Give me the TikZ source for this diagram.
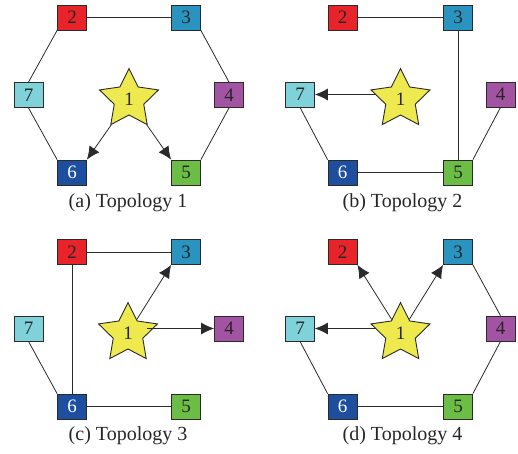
\documentclass[tikz,border=0pt]{standalone}
\usepackage{fontspec}
\setmainfont{Liberation Serif}
\usetikzlibrary{shapes.geometric,arrows.meta}
\definecolor{cR}{HTML}{E8242A}
\definecolor{cT}{HTML}{2A93BF}
\definecolor{cP}{HTML}{A253A1}
\definecolor{cG}{HTML}{6BBD45}
\definecolor{cB}{HTML}{1E4F9F}
\definecolor{cC}{HTML}{7FD1DA}
\definecolor{cY}{HTML}{EDE94E}
\definecolor{cE}{HTML}{2A2A2A}
\tikzset{
  box/.style={draw=cE, line width=0.8pt, minimum width=29pt, minimum height=25pt,
    inner sep=0pt, font=\fontsize{19}{19}\selectfont, text=black!85},
  starnode/.style={star, star points=5, star point ratio=2.0, minimum size=62pt,
    inner sep=0pt, draw=cE, line width=0.9pt, fill=cY,
    font=\fontsize{19}{19}\selectfont, text=black!85},
  caption/.style={font=\fontsize{20}{20}\selectfont, text=black!85},
  link/.style={draw=cE, line width=0.8pt},
  arr/.style={draw=cE, line width=0.8pt, -{Latex[length=13pt,width=12pt]}},
}
\begin{document}
\begin{tikzpicture}[x=1pt,y=-1pt]
\useasboundingbox (0,0) rectangle (518,453);
% ---------- (a)
\begin{scope}
\node[box,fill=cR] (a2) at (72,17.5) {2};
\node[box,fill=cT] (a3) at (186,17.5) {3};
\node[box,fill=cC] (a7) at (28.5,95) {7};
\node[box,fill=cP] (a4) at (229,95) {4};
\node[box,fill=cB,text=white] (a6) at (72,172.5) {6};
\node[box,fill=cG] (a5) at (186,172.5) {5};
\node[starnode] (a1) at (129,99.5) {1};
\node[caption] (ca) at (128,203) {(a) Topology 1};
\draw[link] (a2.east) -- (a3.west);
\draw[link] (a2.south west) -- (a7.north);
\draw[link] (a7.south) -- (a6.north west);
\draw[link] (a3.south east) -- (a4.north);
\draw[link] (a4.south) -- (a5.north east);
\draw[arr] (a1) -- (a6.north east);
\draw[arr] (a1) -- (a5.north west);
\end{scope}
% ---------- (b)
\begin{scope}[shift={(271.5,0)}]
\node[box,fill=cR] (b2) at (71,17.5) {2};
\node[box,fill=cT] (b3) at (186.5,17.5) {3};
\node[box,fill=cC] (b7) at (28.5,94.5) {7};
\node[box,fill=cP] (b4) at (229,94.5) {4};
\node[box,fill=cB,text=white] (b6) at (71,172.5) {6};
\node[box,fill=cG] (b5) at (186.5,172.5) {5};
\node[starnode] (b1) at (129,99.5) {1};
\node[caption] (cb) at (131,203) {(b) Topology 2};
\draw[link] (b2.east) -- (b3.west);
\draw[link] (b3.south) -- (b5.north);
\draw[link] (b4.south) -- (b5.north east);
\draw[link] (b7.south) -- (b6.north west);
\draw[link] (b6.east) -- (b5.west);
\draw[arr] (b1.center |- b7.east) ++(-25,0) -- (b7.east);
\end{scope}
% ---------- (c)
\begin{scope}[shift={(0,234)}]
\node[box,fill=cR] (c2) at (72,18) {2};
\node[box,fill=cT] (c3) at (186,18) {3};
\node[box,fill=cC] (c7) at (28.5,94.5) {7};
\node[box,fill=cP] (c4) at (229,94.5) {4};
\node[box,fill=cB,text=white] (c6) at (72,172.5) {6};
\node[box,fill=cG] (c5) at (186,172.5) {5};
\node[starnode] (c1) at (128,99.5) {1};
\node[caption] (cc) at (128,202) {(c) Topology 3};
\draw[link] (c2.east) -- (c3.west);
\draw[link] (c2.south) -- (c6.north);
\draw[link] (c7.south) -- (c6.north west);
\draw[link] (c6.east) -- (c5.west);
\draw[arr] (c1) -- (c3.south west);
\draw[arr] (c1.center |- c4.west) ++(19,0) -- (c4.west);
\end{scope}
% ---------- (d)
\begin{scope}[shift={(271.5,234)}]
\node[box,fill=cR] (d2) at (71,18) {2};
\node[box,fill=cT] (d3) at (186.5,18) {3};
\node[box,fill=cC] (d7) at (28.5,94.5) {7};
\node[box,fill=cP] (d4) at (229,94.5) {4};
\node[box,fill=cB,text=white] (d6) at (71,172.5) {6};
\node[box,fill=cG] (d5) at (186.5,172.5) {5};
\node[starnode] (d1) at (129,99.5) {1};
\node[caption] (cd) at (131,202) {(d) Topology 4};
\draw[link] (d3.south east) -- (d4.north);
\draw[link] (d4.south) -- (d5.north east);
\draw[link] (d5.west) -- (d6.east);
\draw[link] (d6.north west) -- (d7.south);
\draw[arr] (d1) -- (d2.south east);
\draw[arr] (d1) -- (d3.south west);
\draw[arr] (d1.center |- d7.east) ++(-25,0) -- (d7.east);
\end{scope}
\end{tikzpicture}
\end{document}
